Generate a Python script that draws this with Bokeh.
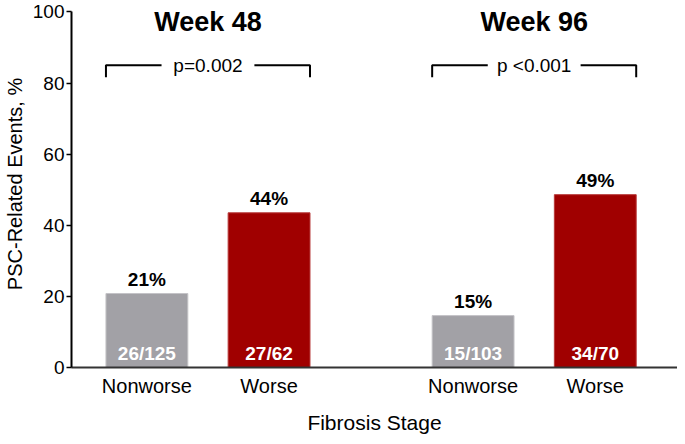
from bokeh.plotting import figure
from bokeh.models import FixedTicker, Range1d
from bokeh.core.properties import value
from bokeh.embed import file_html
from bokeh.resources import INLINE

# ---- data ----
weeks = ["Week 48", "Week 96"]
stages = ["Nonworse", "Worse"]
bar_week = [0, 0, 1, 1]
bar_stage = [0, 1, 0, 1]
pct = [20.8, 43.5, 14.6, 48.6]
pct_labels = ["21%", "44%", "15%", "49%"]
count_labels = ["26/125", "27/62", "15/103", "34/70"]
p_values = ["p=0.002", "p <0.001"]
y_ticks = [0, 20, 40, 60, 80, 100]
stage_colors = ["#a2a1a6", "#a00000"]
stage_edges = ["#c4c3c7", "#b83a3a"]

# ---- layout constants ----
GROUP_STEP = 2.67
BAR_W = 0.67
BRACKET_Y = 85
BRACKET_DROP = 3.4
GAP_HALF = 0.38
FONT = "Liberation Sans"

x = [w * GROUP_STEP + s for w, s in zip(bar_week, bar_stage)]
colors = [stage_colors[s] for s in bar_stage]
edges = [stage_edges[s] for s in bar_stage]

p = figure(width=677, height=436, output_backend="svg", toolbar_location=None,
           x_range=Range1d(-0.617, 4.343), y_range=Range1d(0, 103.2),
           min_border_left=0, min_border_right=0, min_border_top=0, min_border_bottom=0)
p.outline_line_color = None
p.xgrid.visible = False
p.ygrid.visible = False
p.background_fill_color = "white"
p.border_fill_color = "white"

# bars
p.vbar(x=x, top=pct, width=BAR_W, bottom=0, fill_color=colors, line_color=edges, line_width=1)

# percentage labels above bars
p.text(x=x, y=pct, text=pct_labels, text_align="center", text_baseline="alphabetic",
       y_offset=-14, text_font=value(FONT), text_font_style="bold", text_font_size="19px",
       text_color="black")

# count labels inside bars
p.text(x=x, y=[0] * len(x), text=count_labels, text_align="center", text_baseline="alphabetic",
       y_offset=-14, text_font=value(FONT), text_font_style="bold", text_font_size="19px",
       text_color="white")

# week titles and brackets
centers = []
bx, by = [], []
for w in range(len(weeks)):
    idx = [i for i in range(len(x)) if bar_week[i] == w]
    left = min(x[i] for i in idx) - BAR_W / 2
    right = max(x[i] for i in idx) + BAR_W / 2
    c = (left + right) / 2
    centers.append(c)
    bx.append([left, left, c - GAP_HALF])
    by.append([BRACKET_Y - BRACKET_DROP, BRACKET_Y, BRACKET_Y])
    bx.append([c + GAP_HALF, right, right])
    by.append([BRACKET_Y, BRACKET_Y, BRACKET_Y - BRACKET_DROP])

p.multi_line(xs=bx, ys=by, line_color="black", line_width=2)

p.text(x=centers, y=[97.2] * len(centers), text=weeks, text_align="center",
       text_baseline="alphabetic", text_font=value(FONT), text_font_style="bold",
       text_font_size="27px", text_color="black")

p.text(x=centers, y=[BRACKET_Y] * len(centers), text=p_values, text_align="center",
       text_baseline="middle", text_font=value(FONT), text_font_size="19px",
       text_color="black")

# y axis
ya = p.yaxis[0]
ya.ticker = FixedTicker(ticks=y_ticks)
ya.bounds = (0, 100)
ya.axis_label = "PSC-Related Events, %"
ya.axis_label_text_font = FONT
ya.axis_label_text_font_style = "normal"
ya.axis_label_text_font_size = "20px"
ya.axis_label_text_color = "black"
ya.axis_label_standoff = 4
ya.major_label_text_font = FONT
ya.major_label_text_font_size = "19px"
ya.major_label_standoff = 2
ya.major_tick_out = 5
ya.major_tick_in = 0
ya.minor_tick_out = 0
ya.minor_tick_in = 0
ya.axis_line_width = 2
ya.axis_line_color = "black"
ya.major_tick_line_width = 1.5
ya.major_label_text_color = "black"

# x axis
xa = p.xaxis[0]
xa.ticker = FixedTicker(ticks=x)
xa.major_label_overrides = {xv: stages[s] for xv, s in zip(x, bar_stage)}
xa.axis_label = "Fibrosis Stage"
xa.axis_label_text_font = FONT
xa.axis_label_text_font_style = "normal"
xa.axis_label_text_font_size = "21px"
xa.axis_label_text_color = "black"
xa.axis_label_standoff = 11
xa.major_label_text_font = FONT
xa.major_label_text_font_size = "20px"
xa.major_label_standoff = 7
xa.major_tick_out = 0
xa.major_tick_in = 0
xa.minor_tick_out = 0
xa.minor_tick_in = 0
xa.axis_line_width = 2
xa.axis_line_color = "#333333"
xa.major_label_text_color = "black"

open("out.html", "w").write(file_html(p, INLINE))
